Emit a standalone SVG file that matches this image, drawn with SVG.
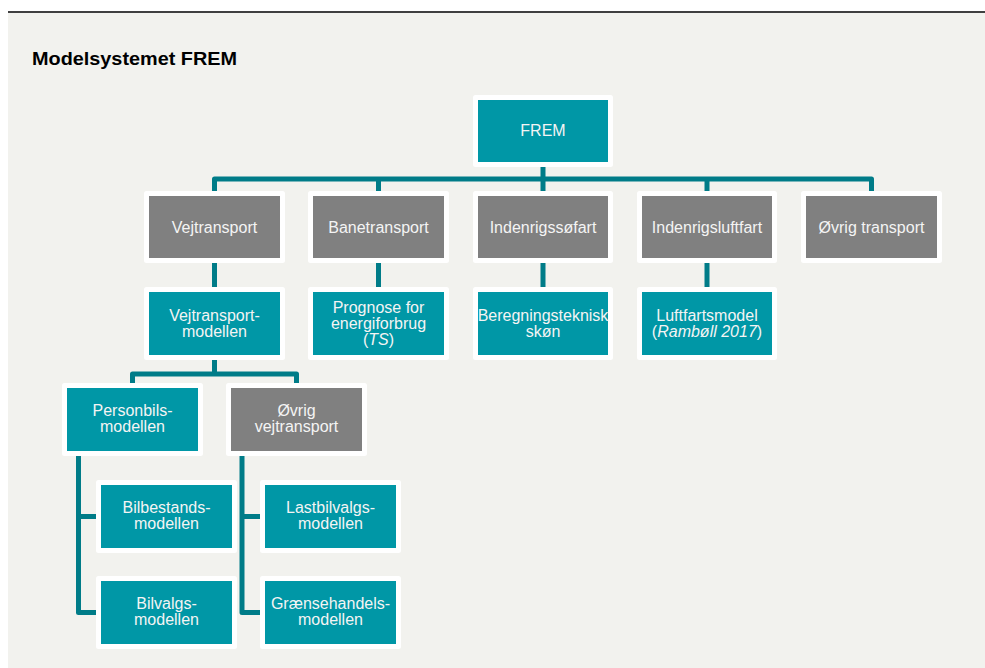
<svg xmlns="http://www.w3.org/2000/svg" width="985" height="668" viewBox="0 0 985 668">
<style>
.bx{stroke:#ffffff;stroke-width:5;stroke-linejoin:round}
.t{fill:#0097a6}
.g{fill:#808080}
.lbl{font-family:"Liberation Sans",Arial,sans-serif;font-size:16px;fill:#f4f4f4;text-anchor:middle}
.c{fill:none;stroke:#007c88;stroke-width:5;stroke-linejoin:round;stroke-linecap:butt}
</style>
<rect x="0" y="0" width="985" height="668" fill="#ffffff"/>
<rect x="8" y="13" width="977" height="655" fill="#f2f2ee"/>
<line x1="8" y1="12" x2="985" y2="12" stroke="#000" stroke-width="1.5"/>
<text x="32" y="65" font-family="'Liberation Sans',Arial,sans-serif" font-weight="bold" font-size="18" textLength="205" lengthAdjust="spacingAndGlyphs" fill="#000">Modelsystemet FREM</text>

<g id="connectors">
<path class="c" d="M543,167 V179"/>
<path class="c" d="M214.5,191 V179 H871.5 V191"/>
<path class="c" d="M378.5,179 V191 M543,179 V191 M707,179 V191"/>
<path class="c" d="M214.5,263 V287 M378.5,263 V287 M543,263 V287 M707,263 V287"/>
<path class="c" d="M214.5,360 V374"/>
<path class="c" d="M132.5,383 V374 H296.5 V383"/>
<path class="c" d="M78.5,456 V612.5 H96 M78.5,516.5 H96"/>
<path class="c" d="M242,456 V612.5 H260 M242,516.5 H260"/>
</g>

<g id="frem"><rect class="bx t" x="475.5" y="97.5" width="135" height="67"/><text class="lbl" x="543" y="136">FREM</text></g>

<g id="vejtransport"><rect class="bx g" x="146.5" y="193.5" width="136" height="67"/><text class="lbl" x="214.5" y="233">Vejtransport</text></g>
<g id="banetransport"><rect class="bx g" x="310.5" y="193.5" width="136" height="67"/><text class="lbl" x="378.5" y="233">Banetransport</text></g>
<g id="indenrigssofart"><rect class="bx g" x="475.5" y="193.5" width="135" height="67"/><text class="lbl" x="543" y="233">Indenrigssøfart</text></g>
<g id="indenrigsluftfart"><rect class="bx g" x="639.5" y="193.5" width="135" height="67"/><text class="lbl" x="707" y="233">Indenrigsluftfart</text></g>
<g id="ovrig-transport"><rect class="bx g" x="803.5" y="193.5" width="136" height="67"/><text class="lbl" x="871.5" y="233">Øvrig transport</text></g>

<g id="vejtransportmodellen"><rect class="bx t" x="146.5" y="289.5" width="136" height="68"/><text class="lbl" x="214.5" y="321">Vejtransport-</text><text class="lbl" x="214.5" y="337">modellen</text></g>
<g id="prognose"><rect class="bx t" x="310.5" y="289.5" width="136" height="68"/><text class="lbl" x="378.5" y="313">Prognose for</text><text class="lbl" x="378.5" y="329">energiforbrug</text><text class="lbl" x="378.5" y="345">(<tspan font-style="italic">TS</tspan>)</text></g>
<g id="beregningsteknisk"><rect class="bx t" x="475.5" y="289.5" width="135" height="68"/><text class="lbl" x="543" y="321">Beregningsteknisk</text><text class="lbl" x="543" y="337">skøn</text></g>
<g id="luftfartsmodel"><rect class="bx t" x="639.5" y="289.5" width="135" height="68"/><text class="lbl" x="707" y="321">Luftfartsmodel</text><text class="lbl" x="707" y="337">(<tspan font-style="italic">Rambøll 2017</tspan>)</text></g>

<g id="personbilsmodellen"><rect class="bx t" x="64.5" y="385.5" width="136" height="68"/><text class="lbl" x="132.5" y="416">Personbils-</text><text class="lbl" x="132.5" y="432">modellen</text></g>
<g id="ovrig-vejtransport"><rect class="bx g" x="228.5" y="385.5" width="136" height="68"/><text class="lbl" x="296.5" y="416">Øvrig</text><text class="lbl" x="296.5" y="432">vejtransport</text></g>

<g id="bilbestandsmodellen"><rect class="bx t" x="98.5" y="482.5" width="136" height="68"/><text class="lbl" x="166.5" y="513">Bilbestands-</text><text class="lbl" x="166.5" y="529">modellen</text></g>
<g id="bilvalgsmodellen"><rect class="bx t" x="98.5" y="578.5" width="136" height="68"/><text class="lbl" x="166.5" y="609">Bilvalgs-</text><text class="lbl" x="166.5" y="625">modellen</text></g>
<g id="lastbilvalgsmodellen"><rect class="bx t" x="262.5" y="482.5" width="136" height="68"/><text class="lbl" x="330.5" y="513">Lastbilvalgs-</text><text class="lbl" x="330.5" y="529">modellen</text></g>
<g id="graensehandelsmodellen"><rect class="bx t" x="262.5" y="578.5" width="136" height="68"/><text class="lbl" x="330.5" y="609">Grænsehandels-</text><text class="lbl" x="330.5" y="625">modellen</text></g>
</svg>
